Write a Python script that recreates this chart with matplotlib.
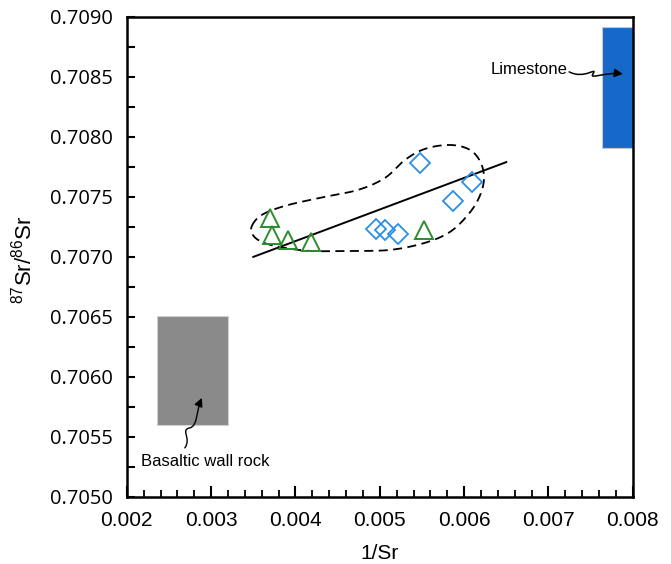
import numpy as np
import matplotlib
matplotlib.use("Agg")
import matplotlib.pyplot as plt
from matplotlib.patches import Rectangle, FancyArrowPatch
from matplotlib.path import Path
from matplotlib.ticker import MultipleLocator, FormatStrFormatter

plt.rcParams["mathtext.fontset"] = "custom"
plt.rcParams["mathtext.rm"] = "Liberation Sans"
plt.rcParams["mathtext.it"] = "Liberation Sans:italic"
plt.rcParams["mathtext.bf"] = "Liberation Sans:bold"

# ---- data ----
tri_x = [0.00370, 0.00372, 0.00391, 0.00419, 0.00552]
tri_y = [0.707325, 0.707180, 0.707142, 0.707125, 0.707225]

dia_x = [0.005476, 0.006093, 0.005867, 0.004954, 0.005060, 0.005215]
dia_y = [0.707783, 0.707625, 0.707467, 0.707233, 0.707225, 0.707192]

trend_x = [0.0035, 0.0065]
trend_y = [0.70700, 0.70779]

env_x = [0.003483, 0.003601, 0.003874, 0.004289, 0.004740, 0.005061, 0.005298,
         0.005535, 0.005832, 0.006069, 0.006199, 0.006235, 0.006176, 0.006045,
         0.005832, 0.005535, 0.005120, 0.004645, 0.004171, 0.003815, 0.003601,
         0.003495]
env_y = [0.707258, 0.707350, 0.707425, 0.707492, 0.707558, 0.707658, 0.707808,
         0.707900, 0.707933, 0.707892, 0.707783, 0.707642, 0.707492, 0.707350,
         0.707208, 0.707117, 0.707058, 0.707050, 0.707050, 0.707083, 0.707125,
         0.707183]

limestone_x = (0.00763, 0.00800)
limestone_y = (0.70791, 0.70892)
basalt_x = (0.00236, 0.00320)
basalt_y = (0.70560, 0.70651)

xticks = [0.002, 0.003, 0.004, 0.005, 0.006, 0.007, 0.008]
yticks = [0.7050, 0.7055, 0.7060, 0.7065, 0.7070, 0.7075, 0.7080, 0.7085, 0.7090]


def closed_catmull_rom(xs, ys, n=30):
    xs = np.asarray(xs); ys = np.asarray(ys)
    sx = 1 / 0.006; sy = 1 / 0.004
    P = np.column_stack([xs * sx, ys * sy])
    N = len(P)
    out = []
    for i in range(N):
        p0, p1, p2, p3 = P[(i - 1) % N], P[i], P[(i + 1) % N], P[(i + 2) % N]
        t = np.linspace(0, 1, n, endpoint=False)[:, None]
        seg = 0.5 * ((2 * p1) + (-p0 + p2) * t + (2 * p0 - 5 * p1 + 4 * p2 - p3) * t ** 2
                     + (-p0 + 3 * p1 - 3 * p2 + p3) * t ** 3)
        out.append(seg)
    out.append(P[:1])
    out = np.vstack(out)
    return out[:, 0] / sx, out[:, 1] / sy


fig = plt.figure(figsize=(6.71, 5.64), dpi=100)
ax = fig.add_axes([0.189, 0.119, 0.754, 0.851])

ax.set_xlim(0.002, 0.008)
ax.set_ylim(0.7050, 0.7090)

# boxes
ax.add_patch(Rectangle((limestone_x[0], limestone_y[0]), limestone_x[1] - limestone_x[0],
                       limestone_y[1] - limestone_y[0], facecolor="#1769c9",
                       edgecolor="#c8c8c8", lw=0.8, zorder=1))
ax.add_patch(Rectangle((basalt_x[0], basalt_y[0]), basalt_x[1] - basalt_x[0],
                       basalt_y[1] - basalt_y[0], facecolor="#8a8a8a",
                       edgecolor="#cfcfcf", lw=0.8, zorder=1))

# envelope
ex, ey = closed_catmull_rom(env_x, env_y)
ax.plot(ex, ey, ls=(0, (5, 3)), color="black", lw=1.3, zorder=2)

# trend line
ax.plot(trend_x, trend_y, color="black", lw=1.4, zorder=3)

# points
ax.plot(tri_x, tri_y, ls="none", marker="^", ms=13.5, mfc="none", mec="#2e8b2e", mew=1.4, zorder=4)
ax.plot(dia_x, dia_y, ls="none", marker="D", ms=10, mfc="none", mec="#2a8fe8", mew=1.3, zorder=4)

# labels with wavy arrows
ax.text(0.007231, 0.708558, "Limestone", ha="right", va="center", fontsize=12,
        family="Liberation Sans")
lp = Path([(0.007246, 0.708542), (0.007433, 0.708475), (0.007587, 0.708592), (0.007528, 0.708525),
           (0.007480, 0.708475), (0.007670, 0.708542), (0.007884, 0.708525)],
          [Path.MOVETO, Path.CURVE4, Path.CURVE4, Path.CURVE4, Path.CURVE4, Path.CURVE4, Path.CURVE4])
ax.add_patch(FancyArrowPatch(path=lp, arrowstyle="-|>,head_length=5,head_width=2.5",
                             color="black", lw=1.1, zorder=5))

ax.text(0.002925, 0.705292, "Basaltic wall rock", ha="center", va="center", fontsize=12,
        family="Liberation Sans")
bp = Path([(0.002688, 0.705408), (0.002771, 0.705492), (0.002629, 0.705558), (0.002747, 0.705575),
           (0.002842, 0.705592), (0.002819, 0.705708), (0.002890, 0.705825)],
          [Path.MOVETO, Path.CURVE4, Path.CURVE4, Path.CURVE4, Path.CURVE4, Path.CURVE4, Path.CURVE4])
ax.add_patch(FancyArrowPatch(path=bp, arrowstyle="-|>,head_length=5,head_width=2.5",
                             color="black", lw=1.0, zorder=5))

# axes styling
for s in ax.spines.values():
    s.set_linewidth(1.8)
ax.set_xticks(xticks)
ax.set_yticks(yticks)
ax.xaxis.set_minor_locator(MultipleLocator(0.0002))
ax.yaxis.set_minor_locator(MultipleLocator(0.00025))
ax.xaxis.set_major_formatter(FormatStrFormatter("%.3f"))
ax.yaxis.set_major_formatter(FormatStrFormatter("%.4f"))
ax.tick_params(axis="x", which="major", direction="in", length=8, width=1.5, pad=10,
               labelsize=15, labelfontfamily="Liberation Sans")
ax.tick_params(axis="x", which="minor", direction="in", length=5, width=1.3)
ax.tick_params(axis="y", which="both", direction="in", length=6, width=1.5, pad=10,
               labelsize=14.5, labelfontfamily="Open Sans")

ax.set_xlabel("1/Sr", fontsize=15, family="Liberation Sans", labelpad=10)
ax.set_ylabel(r"$^{87}$Sr/$^{86}$Sr", fontsize=16, family="Liberation Sans")
ax.yaxis.set_label_coords(-0.178, 0.494)

fig.savefig("out.png", dpi=100)
